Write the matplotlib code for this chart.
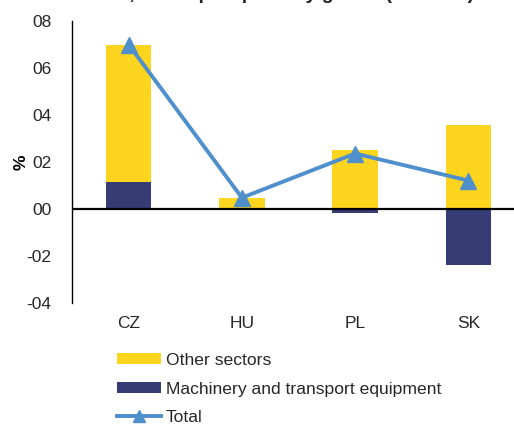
import matplotlib
matplotlib.use("Agg")
import matplotlib.pyplot as plt
from matplotlib.patches import Patch
from matplotlib.lines import Line2D
import numpy as np

plt.rcParams['font.family'] = ['Liberation Sans', 'DejaVu Sans']

categories = ["CZ", "HU", "PL", "SK"]
other_sectors = [0.585, 0.048, 0.252, 0.358]
machinery = [0.115, 0.0, -0.019, -0.240]
total = [0.700, 0.048, 0.236, 0.121]
ytick_values = [-0.4, -0.2, 0.0, 0.2, 0.4, 0.6, 0.8]
ytick_labels = ["-04", "-02", "00", "02", "04", "06", "08"]
title_text = "Chart 3, Net export price by goods (2005–10)"

c_other = "#FDD51F"
c_mach = "#363C74"
c_total = "#4F8FCC"

fig = plt.figure(figsize=(5.14, 4.25), dpi=100)
ax = fig.add_axes([72/514, 122/425, 453/514, 282/425])

x = np.arange(len(categories))
mach = np.array(machinery)
oth = np.array(other_sectors)
bottom_other = np.where(mach > 0, mach, 0)
ax.bar(x, mach, width=0.4, color=c_mach, zorder=2)
ax.bar(x, oth, width=0.4, bottom=bottom_other, color=c_other, zorder=2)
ax.plot(x, total, color=c_total, lw=2.8, marker="^", markersize=11, zorder=3)
ax.axhline(0, color="black", lw=1.6, zorder=4)

ax.set_xlim(-0.5, 3.5)
ax.set_ylim(-0.4, 0.8)
ax.set_yticks(ytick_values)
ax.set_yticklabels(ytick_labels)
ax.set_xticks(x)
ax.set_xticklabels(categories)
ax.tick_params(axis="y", length=0, pad=15, labelsize=12.5, colors="#262626")
ax.tick_params(axis="x", length=0, pad=9, labelsize=12.5, colors="#262626")
for s in ["top", "right", "bottom"]:
    ax.spines[s].set_visible(False)
ax.spines["left"].set_linewidth(1.0)
ax.set_ylabel("%", fontsize=12.5, fontweight="bold")
ax.yaxis.set_label_coords(-43/453, 0.5)

handles = [
    Patch(facecolor=c_other, edgecolor="none"),
    Patch(facecolor=c_mach, edgecolor="none"),
    Line2D([0], [0], color=c_total, lw=2.8, marker="^", markersize=9),
]
labels = ["Other sectors", "Machinery and transport equipment", "Total"]
fig.legend(handles, labels, loc="upper left", bbox_to_anchor=(117/514, 1 - 353/425),
           frameon=False, fontsize=12.6, handlelength=2.5, handleheight=0.6,
           handletextpad=0.3, labelspacing=0.78, borderaxespad=0, borderpad=0,
           labelcolor="#262626")

fig.text(62/514, 1 + 1/425, title_text, fontsize=14, fontweight="bold",
         ha="left", va="baseline", color="#222222")

fig.savefig("out.png", dpi=100)
